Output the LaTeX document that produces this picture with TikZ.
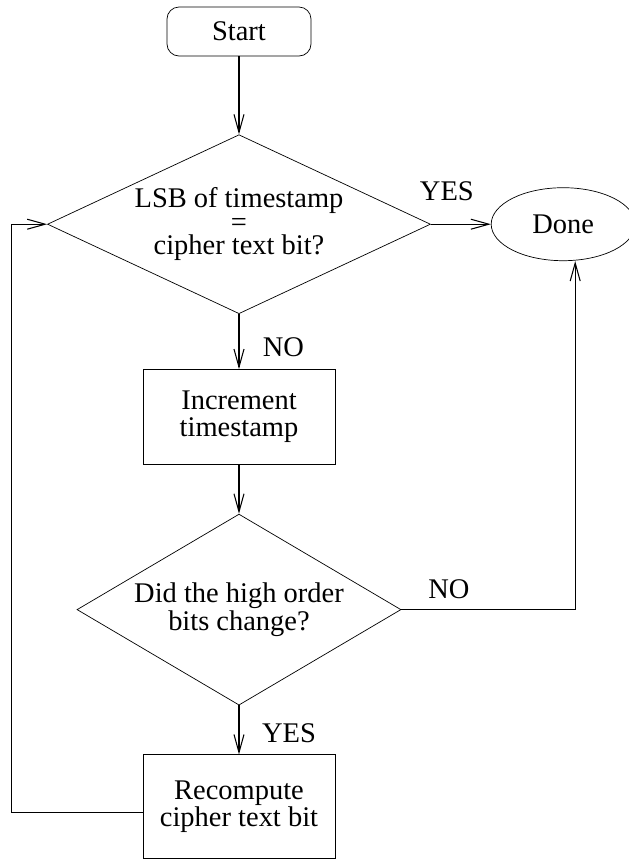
\documentclass[tikz,border=0pt]{standalone}
\usepackage{fontspec}
\setmainfont{Liberation Serif}
\usepackage{tikz}
\usepackage{xcolor}
\usetikzlibrary{positioning,arrows.meta,calc,shapes.geometric}
\definecolor{fcline}{RGB}{0,0,0}
\tikzset{
  term/.style={draw=fcline, rounded corners=0.24cm, align=center, minimum width=2.88cm, minimum height=0.98cm, inner sep=0pt, font=\fontsize{16.2}{15}\selectfont},
  proc/.style={draw=fcline, align=center, minimum width=3.84cm, inner sep=0pt, font=\fontsize{16.2}{15.5}\selectfont},
  decide/.style={draw=fcline, diamond, align=center, inner sep=0pt, font=\fontsize{16.2}{13.5}\selectfont},
  stopnode/.style={draw=fcline, ellipse, align=center, minimum width=2.88cm, minimum height=1.46cm, inner sep=0pt, font=\fontsize{16.2}{15}\selectfont},
  lbl/.style={inner sep=0pt, font=\fontsize{16.2}{15}\selectfont},
  arrow/.style={-{Straight Barb[length=3.6mm, width=2mm]}, line width=0.6pt, fcline},
  link/.style={line width=0.6pt, fcline}
}

\begin{document}
\begin{tikzpicture}
        \useasboundingbox (-4.78,0.63) rectangle ++(12.58,-17.22);
        \node[term] (start) at (0,0) {Start};
        \node[decide, shape aspect=2.14, minimum width=7.66cm, minimum height=3.58cm, below=1.56cm of start] (lsb) {LSB of timestamp\\=\\cipher text bit?};
        \node[stopnode, right=1.2cm of lsb] (done) {Done};
        \node[proc, minimum height=1.9cm, below=1.1cm of lsb] (incr) {Increment\\timestamp};
        \node[decide, shape aspect=1.7, minimum width=6.48cm, minimum height=3.82cm, below=0.98cm of incr] (high) {Did the high order\\bits change?};
        \node[proc, minimum height=2.08cm, below=0.98cm of high] (recomp) {Recompute\\cipher text bit};
        % branch labels
        \node[lbl] (yes1) at ($(lsb.east)+(0.32,0.66)$) {YES};
        \node[lbl] (no1) at ($(lsb.south)+(0.89,-0.66)$) {NO};
        \node[lbl] (no2) at ($(high.east)+(0.95,0.40)$) {NO};
        \node[lbl] (yes2) at ($(high.south)+(1.0,-0.56)$) {YES};
        \foreach \a/\b in {start/lsb,lsb/incr,incr/high,high/recomp}{\draw[arrow] (\a) -- (\b);}
        \draw[arrow] (lsb.east) -- (done.west);
        \coordinate (up) at ($(done.south)+(0.24,0)$);
        \draw[arrow] (high.east) -| (up);
        \coordinate (back) at ($(recomp.west)+(-2.62,-0.12)$);
        \draw[link] ($(recomp.west)+(0,-0.12)$) -- (back);
        \draw[arrow] (back) |- (lsb.west);
      \end{tikzpicture}
\end{document}
